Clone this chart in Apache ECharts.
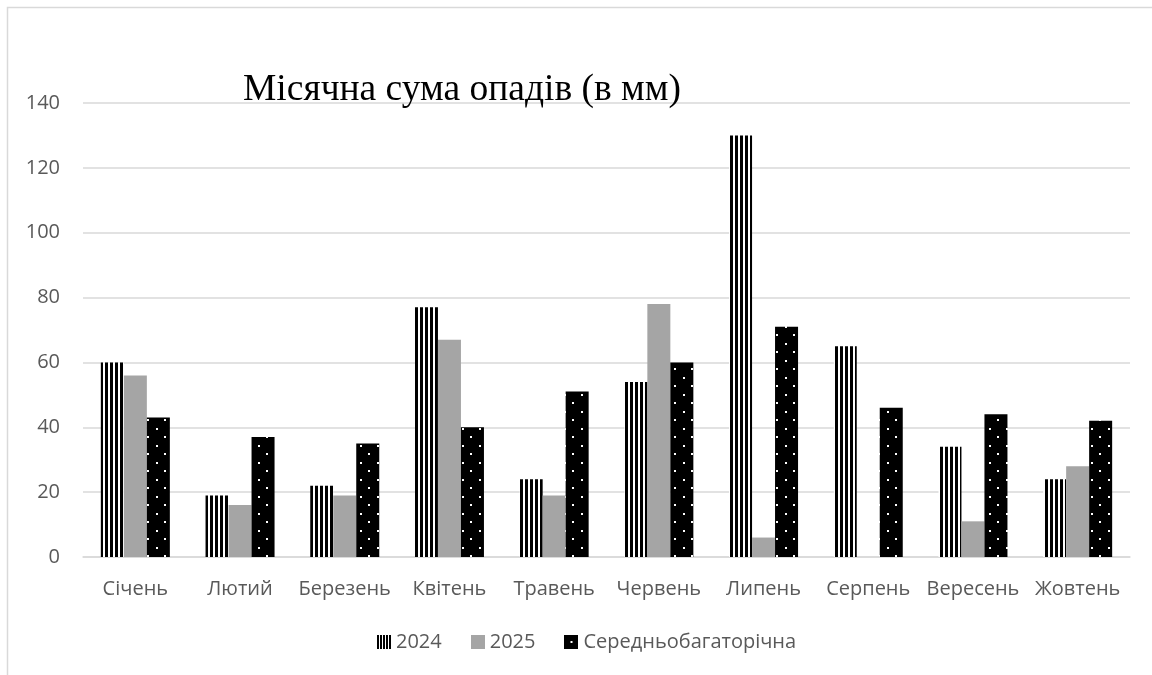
<!DOCTYPE html>
<html>
<head>
<meta charset="utf-8">
<script src="https://cdn.jsdelivr.net/npm/echarts@6/dist/echarts.min.js"></script>
<style>
html,body{margin:0;padding:0;background:#fff;}
#c{width:1152px;height:675px;}
</style>
</head>
<body>
<div id="c"></div>
<script>
const categories = ['Січень','Лютий','Березень','Квітень','Травень','Червень','Липень','Серпень','Вересень','Жовтень'];
const series2024 = [60, 19, 22, 77, 24, 54, 130, 65, 34, 24];
const series2025 = [56, 16, 19, 67, 19, 78, 6, null, 11, 28];
const seriesAvg = [43, 37, 35, 40, 51, 60, 71, 46, 44, 42];
const yTicks = {min: 0, max: 140, interval: 20};
const titleText = 'Місячна сума опадів (в мм)';
const names = ['2024', '2025', 'Середньобагаторічна'];

function mk(w, h, draw) {
  const c = document.createElement('canvas');
  c.width = w; c.height = h;
  draw(c.getContext('2d'));
  return c;
}
const stripeTile = mk(5, 4, g => {
  g.fillStyle = '#fff'; g.fillRect(0, 0, 5, 4);
  g.fillStyle = '#000'; g.fillRect(0, 0, 3, 4);
});
const dotTile = mk(17, 17, g => {
  g.fillStyle = '#000'; g.fillRect(0, 0, 17, 17);
  g.fillStyle = '#fff'; g.fillRect(3, 3, 2, 2); g.fillRect(11, 11, 2, 2);
});
const icon2024 = mk(14, 14, g => {
  g.fillStyle = '#fff'; g.fillRect(0, 0, 14, 14);
  g.fillStyle = '#000';
  for (let x = 0; x < 14; x += 3) g.fillRect(x, 0, 2, 14);
}).toDataURL();
const icon2025 = mk(14, 14, g => {
  g.fillStyle = '#a5a5a5'; g.fillRect(0, 0, 14, 14);
}).toDataURL();
const iconAvg = mk(14, 14, g => {
  g.fillStyle = '#000'; g.fillRect(0, 0, 14, 14);
  g.fillStyle = '#fff'; g.fillRect(6, 6, 2, 2);
}).toDataURL();

const chart = echarts.init(document.getElementById('c'));
const labelFont = {fontFamily: 'Open Sans', fontSize: 20, color: '#595959'};
chart.setOption({
  animation: false,
  backgroundColor: '#fff',
  graphic: [{
    type: 'rect', shape: {x: 7.5, y: 7.5, width: 1160, height: 700},
    style: {fill: 'none', stroke: '#d9d9d9', lineWidth: 1.5}, silent: true, z: -10
  }],
  title: {
    text: titleText, left: 238, top: 66,
    textStyle: {fontFamily: 'Liberation Serif', fontSize: 37.5, fontWeight: 'normal', color: '#000'}
  },
  legend: {
    top: 627, left: 372, itemWidth: 14, itemHeight: 14, itemGap: 29,
    textStyle: labelFont,
    data: [
      {name: names[0], icon: 'image://' + icon2024},
      {name: names[1], icon: 'image://' + icon2025},
      {name: names[2], icon: 'image://' + iconAvg}
    ]
  },
  grid: {left: 83, right: 22, top: 103, bottom: 118},
  xAxis: {
    type: 'category', data: categories,
    axisLine: {lineStyle: {color: '#d9d9d9', width: 1.5}},
    axisTick: {show: false},
    axisLabel: Object.assign({margin: 22, interval: 0, hideOverlap: false}, labelFont)
  },
  yAxis: {
    type: 'value', min: yTicks.min, max: yTicks.max, interval: yTicks.interval,
    axisLine: {show: false}, axisTick: {show: false},
    splitLine: {lineStyle: {color: '#d9d9d9', width: 1.5}},
    axisLabel: Object.assign({margin: 23}, labelFont)
  },
  series: [
    {name: names[0], type: 'bar', data: series2024, barWidth: 23, barGap: '0%',
     itemStyle: {color: {image: stripeTile, repeat: 'repeat'}}},
    {name: names[1], type: 'bar', data: series2025, barWidth: 23, barGap: '0%',
     itemStyle: {color: '#a5a5a5'}},
    {name: names[2], type: 'bar', data: seriesAvg, barWidth: 23, barGap: '0%',
     itemStyle: {color: {image: dotTile, repeat: 'repeat'}}}
  ]
});
</script>
</body>
</html>
